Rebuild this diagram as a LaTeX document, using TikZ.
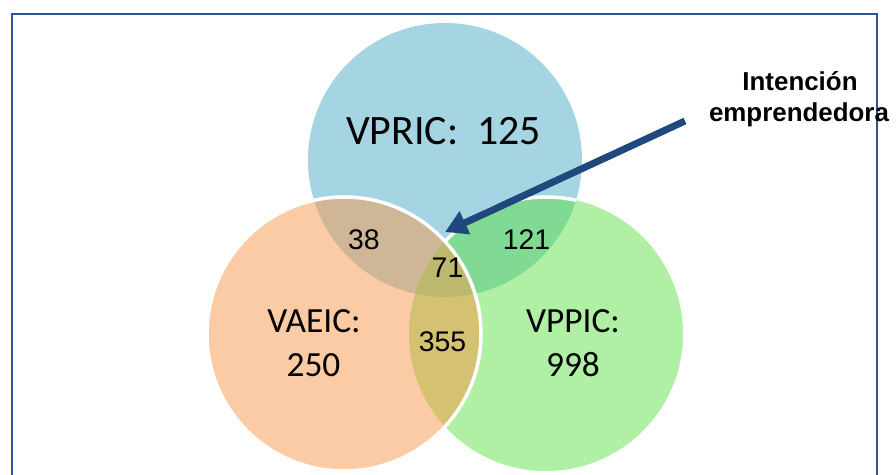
\documentclass[tikz,border=0pt]{standalone}
\usepackage{fontspec}
\newfontfamily\carlito{Carlito}
\newfontfamily\arialf{Liberation Sans}
\usetikzlibrary{arrows.meta}
\definecolor{cblue}{RGB}{165,212,226}
\definecolor{corange}{RGB}{250,203,164}
\definecolor{cgreen}{RGB}{176,240,164}
\definecolor{cbo}{RGB}{206,182,150}
\definecolor{cbg}{RGB}{128,218,148}
\definecolor{cog}{RGB}{212,194,114}
\definecolor{cbog}{RGB}{188,184,110}
\definecolor{frameblue}{RGB}{46,84,150}
\definecolor{arrowblue}{RGB}{31,73,125}
\begin{document}
\begin{tikzpicture}[x=1bp,y=-1bp,
  bigl/.style={font=\carlito\fontsize{42}{50}\selectfont, inner sep=0pt, anchor=base},
  midl/.style={font=\carlito\fontsize{35.5}{42}\selectfont, inner sep=0pt, anchor=base},
  numl/.style={font=\arialf\fontsize{28.5}{34}\selectfont, inner sep=0pt, anchor=base},
  notel/.style={font=\arialf\bfseries\fontsize{26}{31}\selectfont, inner sep=0pt, anchor=base},
  outline/.style={draw=white, line width=3.5bp},
  framestyle/.style={draw=frameblue, line width=2bp},
  pointer/.style={draw=arrowblue, line width=7bp, -{Triangle[length=22bp,width=24bp]}}]
\useasboundingbox (0,0) rectangle (896,475);
\clip (0,0) rectangle (896,475);
\fill[white] (0,0) rectangle (896,475);
% frame
\draw[framestyle] (12,480) -- (12,14.3) -- (877,14.3) -- (877,480);
% blue and green circles
\fill[cblue] (445,160) circle[radius=137];
\fill[cgreen] (546,334) circle[radius=137];
\begin{scope}
  \clip (445,160) circle[radius=137];
  \fill[cbg] (546,334) circle[radius=137];
  \draw[outline] (546,334) circle[radius=137];
\end{scope}
% orange circle and overlaps
\fill[corange] (344,334) circle[radius=137];
\begin{scope}
  \clip (344,334) circle[radius=137];
  \fill[cbo] (445,160) circle[radius=137];
  \fill[cog] (546,334) circle[radius=137];
  \clip (445,160) circle[radius=137];
  \fill[cbog] (546,334) circle[radius=137];
\end{scope}
\draw[outline] (344,334) circle[radius=137];
% labels
\node[bigl] (vpric) at (443.5,145) {VPRIC:\ \ 125};
\node[midl] (vaeic) at (314,332.3) {VAEIC:};
\node[midl] (vaeicn) at (313.5,376.7) {250};
\node[midl] (vppic) at (573,332.3) {VPPIC:};
\node[midl] (vppicn) at (573,376.7) {998};
\node[numl] (n38) at (364,249.5) {38};
\node[numl] (n121) at (526.5,249.5) {121};
\node[numl] (n71) at (447.5,277.3) {71};
\node[numl] (n355) at (442.5,351.3) {355};
% pointer
\coordinate (arrstart) at (685,121);
\coordinate (arrtip) at (445,232);
\draw[pointer] (arrstart) -- (arrtip);
\node[notel] (note1) at (800,90.7) {Intención};
\node[notel] (note2) at (799,121.7) {emprendedora};
\end{tikzpicture}
\end{document}
